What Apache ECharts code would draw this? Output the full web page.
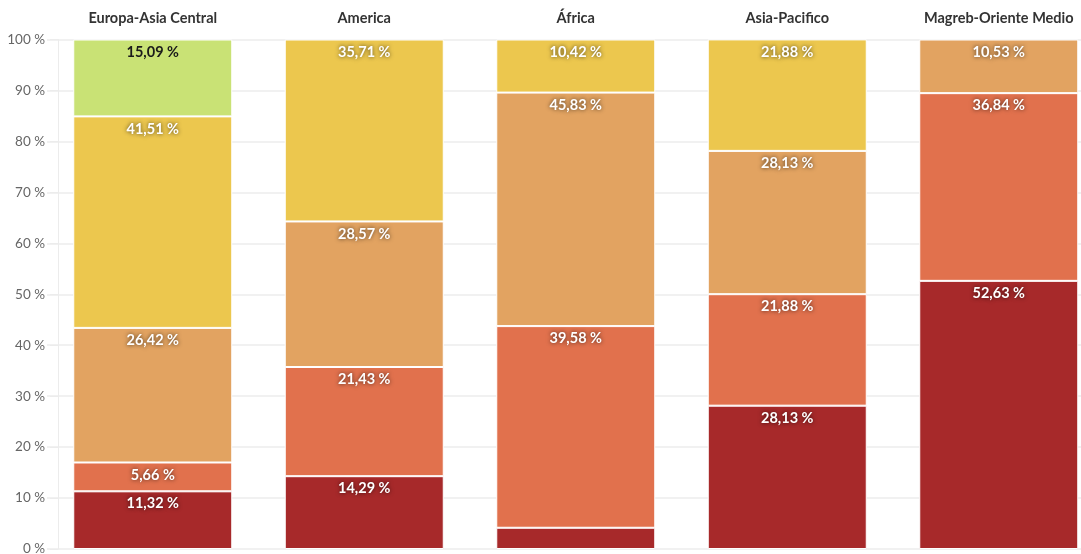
<!DOCTYPE html>
<html>
<head>
<meta charset="utf-8">
<script src="https://cdn.jsdelivr.net/npm/echarts@6/dist/echarts.min.js"></script>
<style>
html,body{margin:0;padding:0;background:#fff;}
#chart{width:1081px;height:554px;}
</style>
</head>
<body>
<div id="chart"></div>
<script>
const categories = ["Europa-Asia Central", "America", "África", "Asia-Pacifico", "Magreb-Oriente Medio"];
const nivel1 = [11.32, 14.29, 4.17, 28.13, 52.63];
const nivel2 = [5.66, 21.43, 39.58, 21.88, 36.84];
const nivel3 = [26.42, 28.57, 45.83, 28.13, 10.53];
const nivel4 = [41.51, 35.71, 10.42, 21.88, 0];
const nivel5 = [15.09, 0, 0, 0, 0];
const yTicks = [0, 10, 20, 30, 40, 50, 60, 70, 80, 90, 100];

const seriesDefs = [
  { name: "Nivel 1", data: nivel1, color: "#a7292a", text: "#fff", shadow: true },
  { name: "Nivel 2", data: nivel2, color: "#e1714d", text: "#fff", shadow: true },
  { name: "Nivel 3", data: nivel3, color: "#e2a361", text: "#fff", shadow: true },
  { name: "Nivel 4", data: nivel4, color: "#ecc74e", text: "#fff", shadow: true },
  { name: "Nivel 5", data: nivel5, color: "#c9e275", text: "#1a1a1a", shadow: false }
];

const FONT = "Lato";
const fmt = v => v.toFixed(2).replace(".", ",") + " %";

const chart = echarts.init(document.getElementById("chart"), null, { renderer: "canvas" });
chart.setOption({
  animation: false,
  grid: { left: 47, width: 1057.5, top: 39.5, bottom: 5, containLabel: false, outerBoundsMode: "none" },
  xAxis: {
    type: "category",
    position: "top",
    data: categories,
    axisLine: { show: false },
    axisTick: { show: true, alignWithLabel: true, length: 7, lineStyle: { color: "#e6e6e6" } },
    axisLabel: { margin: 14, fontFamily: FONT, fontWeight: "bold", fontSize: 14.5, color: "#333" }
  },
  yAxis: {
    type: "value",
    min: 0, max: 100, interval: 10,
    offset: -11,
    axisLine: { show: true, lineStyle: { color: "#ececec" } },
    axisTick: { show: true, length: 8, lineStyle: { color: "#ececec" } },
    axisLabel: {
      margin: 13, fontFamily: FONT, fontSize: 13.5, color: "#666",
      formatter: v => (yTicks.includes(v) ? v + " %" : "")
    },
    splitLine: { show: true, lineStyle: { color: "#ececec", width: 1.5 } }
  },
  series: seriesDefs.map(s => ({
    name: s.name,
    type: "bar",
    stack: "total",
    barWidth: 159,
    data: s.data.map(v => (v > 0 ? v : null)),
    itemStyle: { color: s.color, borderColor: "#fff", borderWidth: 1 },
    label: {
      show: true,
      position: "insideTop",
      distance: 5,
      fontFamily: FONT,
      fontWeight: "bold",
      fontSize: 14.5,
      color: s.text,
      textShadowColor: s.shadow ? "rgba(0,0,0,0.7)" : "transparent",
      textShadowBlur: s.shadow ? 4 : 0,
      formatter: p => (p.value == null || p.value < 5 ? "" : fmt(p.value))
    }
  }))
});
</script>
</body>
</html>
